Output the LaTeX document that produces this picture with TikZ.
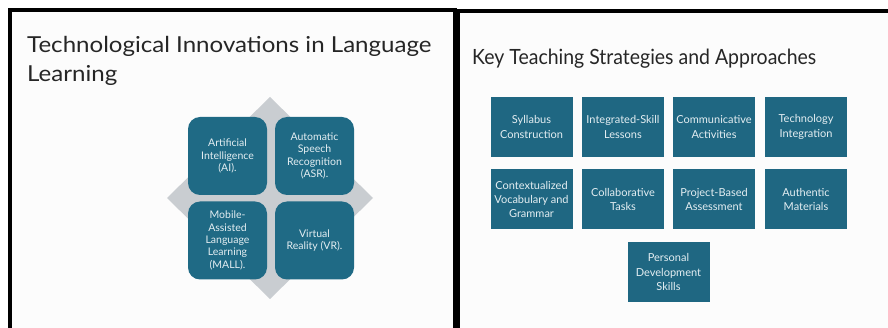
\documentclass[tikz,border=0pt]{standalone}
\usepackage{fontspec}
\setmainfont{Lato}
\usepackage{graphicx}
\definecolor{teal1}{HTML}{1F6A85}
\definecolor{teal2}{HTML}{1F6782}
\definecolor{dgray}{HTML}{C9CDD1}
\definecolor{ttext}{HTML}{262626}
\definecolor{boxtext}{HTML}{E4EEF2}
\definecolor{panelbg}{HTML}{FCFCFC}
\tikzset{
  roundbox/.style={fill=teal1, rounded corners=12pt, minimum width=79pt, minimum height=78pt, inner sep=0pt,
    text=boxtext, align=center, font=\fontsize{10.5}{12.3}\selectfont},
  sqbox/.style={fill=teal2, minimum width=82pt, minimum height=60pt, inner sep=0pt,
    text=boxtext, align=center, font=\fontsize{11}{14.2}\selectfont},
  border/.style={line width=4pt, draw=black}
}
\begin{document}
\begin{tikzpicture}[x=1pt,y=-1pt]
\useasboundingbox (0,0) rectangle (888,328);
\fill[white] (0,0) rectangle (888,328);
% panels
\fill[panelbg] (10,10) rectangle (455,328);
\fill[panelbg] (458,11) rectangle (888,328);
\draw[border] (10,328) -- (10,10) -- (457,10);
\draw[border] (457,11) -- (888,11);
\draw[line width=7pt] (456.5,9) -- (456.5,328);
% left title
\node[anchor=base west, inner sep=0pt, text=ttext, font=\fontsize{22}{29}\selectfont] (ltitle) at (27,53)
  {\scalebox{1.095}[1]{\begin{tabular}[t]{@{}l@{}}Technological Innovations in Language\\Learning\end{tabular}}};
% diamond
\fill[dgray] (270,97) -- (373,198) -- (270,299) -- (167,198) -- cycle;
\node[roundbox] (ai) at (227.5,156) {Artificial\\Intelligence\\(AI).};
\node[roundbox] (asr) at (314.5,156) {Automatic\\Speech\\Recognition\\(ASR).};
\node[roundbox] (mall) at (227.5,240.5) {Mobile-\\Assisted\\Language\\Learning\\(MALL).};
\node[roundbox] (vr) at (314.5,240.5) {Virtual\\Reality (VR).};
% right title
\node[anchor=base west, inner sep=0pt, text=ttext, font=\fontsize{21}{25}\selectfont] (rtitle) at (472,65)
  {\scalebox{0.927}[1]{Key Teaching Strategies and Approaches}};
% right boxes
\node[sqbox] (b1) at (531.5,127) {Syllabus\\Construction};
\node[sqbox] (b2) at (623,127) {Integrated-Skill\\Lessons};
\node[sqbox] (b3) at (714,127) {Communicative\\Activities};
\node[sqbox] (b4) at (806,127) {Technology\\Integration};
\node[sqbox] (b5) at (531.5,199.5) {Contextualized\\Vocabulary and\\Grammar};
\node[sqbox] (b6) at (623,199.5) {Collaborative\\Tasks};
\node[sqbox] (b7) at (714,199.5) {Project-Based\\Assessment};
\node[sqbox] (b8) at (806,199.5) {Authentic\\Materials};
\node[sqbox] (b9) at (668.5,272) {Personal\\Development\\Skills};
\end{tikzpicture}
\end{document}
